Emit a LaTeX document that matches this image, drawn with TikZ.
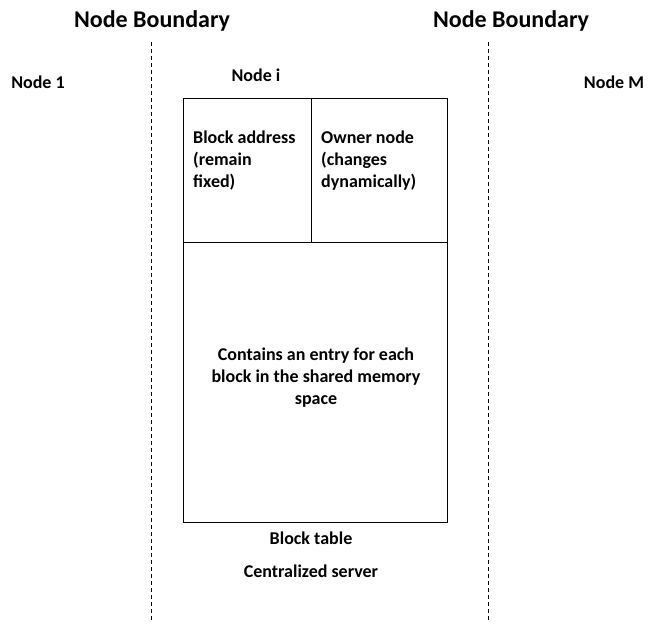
\documentclass[tikz,border=0pt]{standalone}
\usepackage{fontspec}
\setmainfont{Carlito}
\begin{document}
\begin{tikzpicture}[x=1pt,y=-1pt,
  lbl/.style={font=\bfseries\fontsize{18}{22}\selectfont, inner sep=0pt},
  title/.style={font=\bfseries\fontsize{24}{28}\selectfont, inner sep=0pt},
  bnd/.style={dashed, line width=0.6pt, dash pattern=on 4pt off 3pt},
  boxln/.style={line width=0.7pt}]
\useasboundingbox (0,0) rectangle (655,627);
\node[title] (t1) at (152,21) {Node Boundary};
\node[title] (t2) at (511,21) {Node Boundary};
\coordinate (b1top) at (151,42);
\coordinate (b1bot) at (151,620);
\coordinate (b2top) at (488,42);
\coordinate (b2bot) at (488,620);
\draw[bnd] (b1top) -- (b1bot);
\draw[bnd] (b2top) -- (b2bot);
\node[lbl] (n1) at (38,82) {Node 1};
\node[lbl] (ni) at (256,75) {Node i};
\node[lbl] (nm) at (614,82) {Node M};
\node[draw, boxln, minimum width=128pt, minimum height=144pt, anchor=north west, inner sep=0pt] (addr) at (183,98) {};
\node[draw, boxln, minimum width=136pt, minimum height=144pt, anchor=north west, inner sep=0pt] (own) at (311,98) {};
\node[draw, boxln, minimum width=264pt, minimum height=280pt, anchor=north west, inner sep=0pt] (table) at (183,242) {};
\node[lbl, align=left, anchor=north west] (addrtxt) at (193,131) {Block address\\(remain\\fixed)};
\node[lbl, align=left, anchor=north west] (owntxt) at (321,131) {Owner node\\(changes\\dynamically)};
\node[lbl, align=center] (tabtxt) at (316,378) {Contains an entry for each\\block in the shared memory\\space};
\node[lbl] (bt) at (311,538) {Block table};
\node[lbl] (cs) at (311,571) {Centralized server};
\end{tikzpicture}
\end{document}
